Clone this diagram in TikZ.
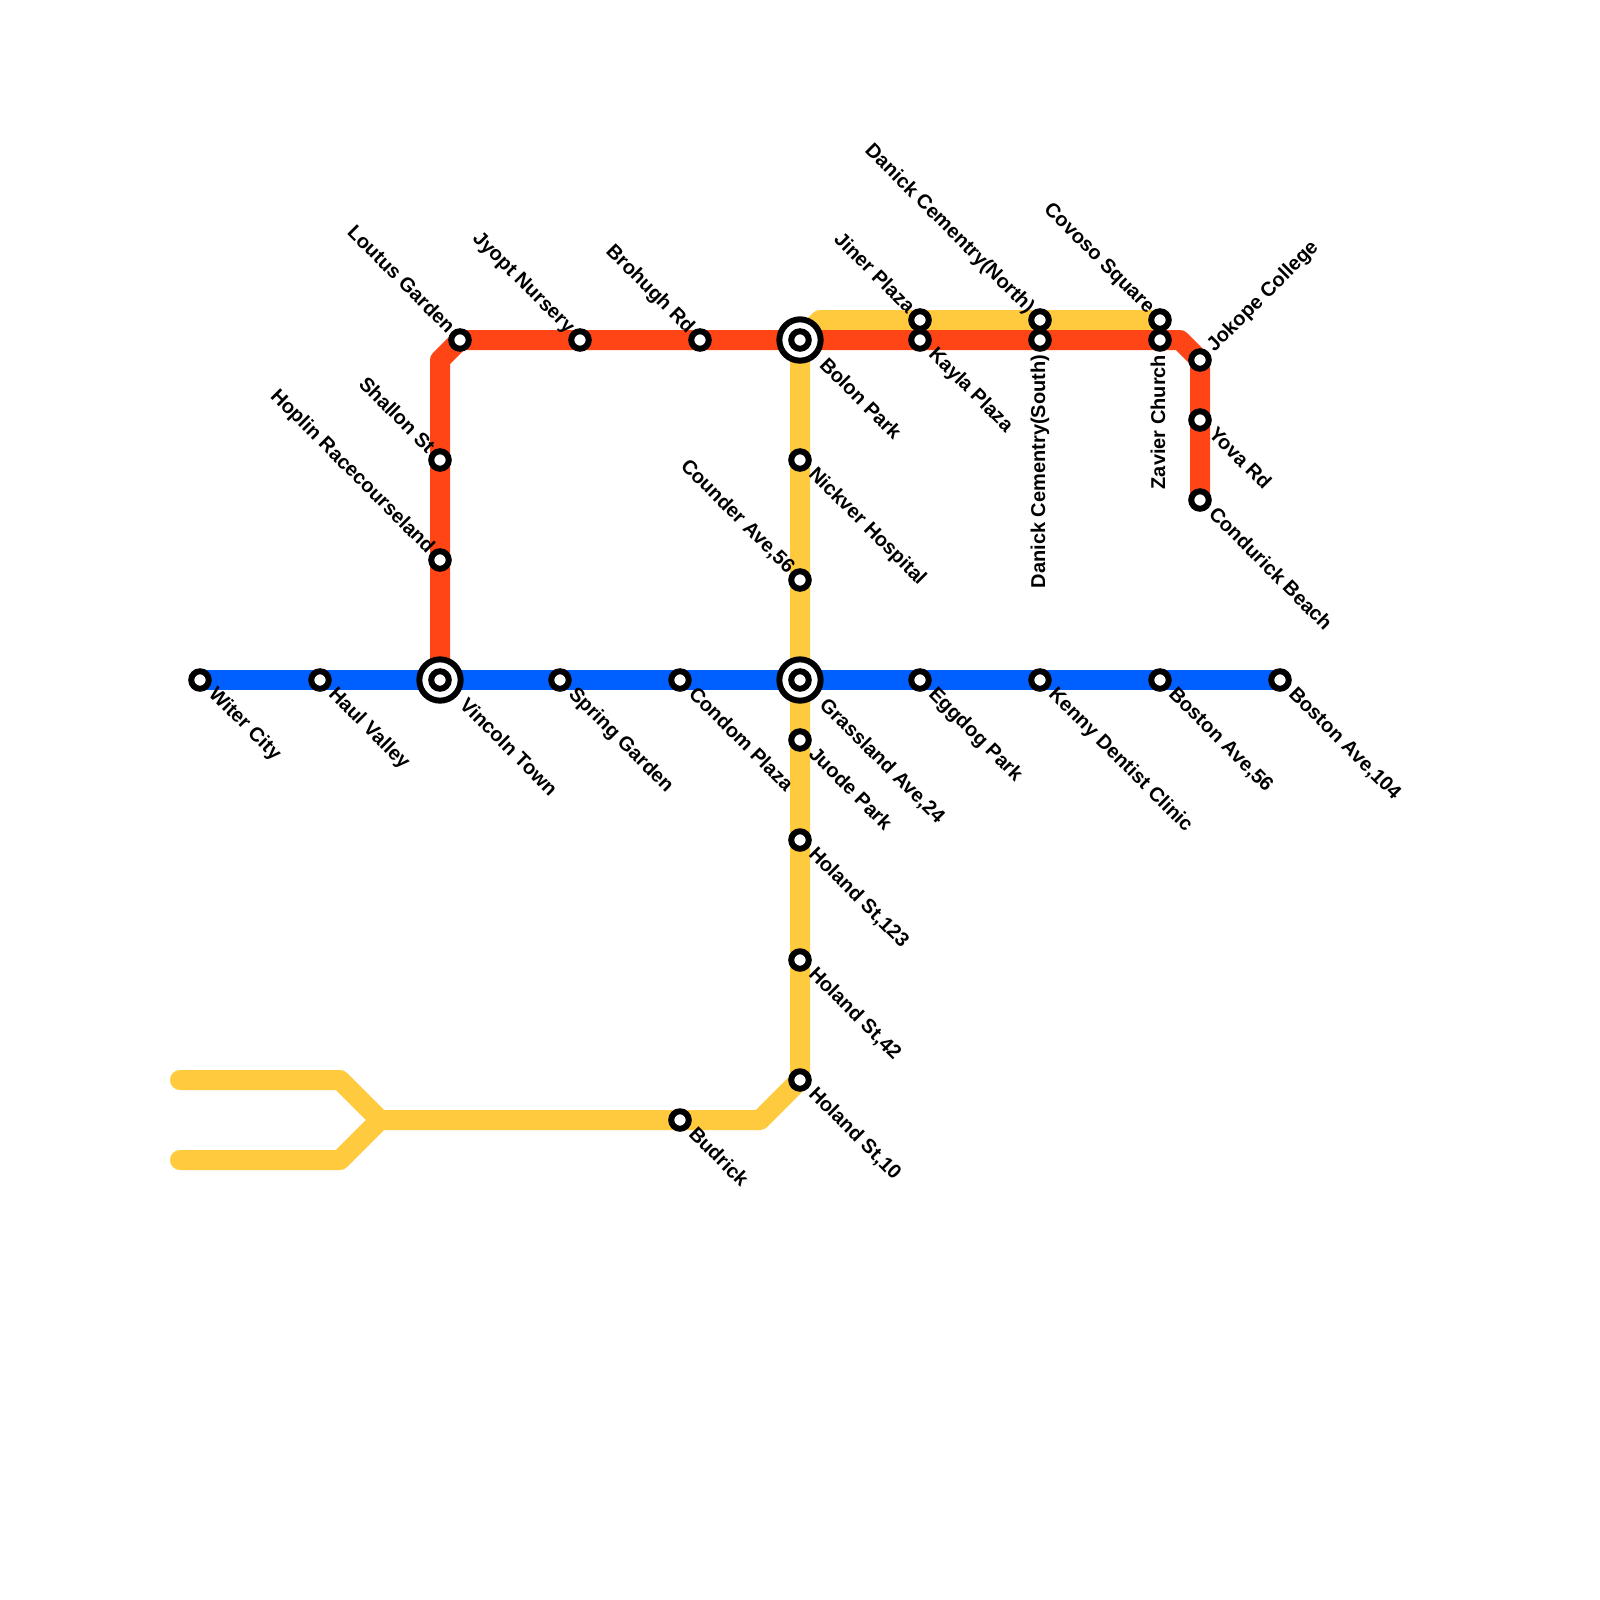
\documentclass[tikz,border=0pt]{standalone}
\usepackage{fontspec}
\setmainfont{Liberation Sans}
\definecolor{lineblue}{HTML}{005FFF}
\definecolor{linered}{HTML}{FF4416}
\definecolor{lineyellow}{HTML}{FFCA3D}
\tikzset{
  metro/.style={line width=5.69pt,line join=round,line cap=round},
  stn/.style={circle,draw=black,fill=white,line width=1.71pt,inner sep=0pt,outer sep=0pt,minimum size=4.98pt},
  hub/.style={circle,draw=black,fill=white,line width=1.71pt,inner sep=0pt,outer sep=0pt,minimum size=11.75pt},
  stnlabel/.style={inner sep=0pt,text height=4.15pt,text depth=1.2pt,font=\fontsize{5.69}{6.8}\selectfont\bfseries},
  lblse/.style={rotate=-45,anchor=west,xshift=4.4pt},
  lblhub/.style={rotate=-45,anchor=west,xshift=8.8pt},
  lblnw/.style={rotate=-45,anchor=east,xshift=-3.6pt},
  lblne/.style={rotate=45,anchor=west,xshift=4.2pt},
  lblup/.style={rotate=90,anchor=east,xshift=-4pt}
}
\def\stations{
  10/34/witer/lblse/Witer City,
  16/34/haul/lblse/Haul Valley,
  28/34/spring/lblse/Spring Garden,
  34/34/condom/lblse/Condom Plaza,
  46/34/eggdog/lblse/Eggdog Park,
  52/34/kenny/lblse/Kenny Dentist Clinic,
  58/34/bostona/lblse/{Boston Ave,56},
  64/34/bostonb/lblse/{Boston Ave,104},
  22/23/shallon/lblnw/Shallon St,
  22/28/hoplin/lblnw/Hoplin Racecourseland,
  23/17/loutus/lblnw/Loutus Garden,
  29/17/jyopt/lblnw/Jyopt Nursery,
  35/17/brohugh/lblnw/Brohugh Rd,
  46/17/kayla/lblse/Kayla Plaza,
  52/17/danicks/lblup/Danick Cementry(South),
  58/17/zavier/lblup/Zavier Church,
  60/18/jokope/lblne/Jokope College,
  60/21/yova/lblse/Yova Rd,
  60/25/condurick/lblse/Condurick Beach,
  46/16/jiner/lblnw/Jiner Plaza,
  52/16/danickn/lblnw/Danick Cementry(North),
  58/16/covoso/lblnw/Covoso Square,
  40/23/nickver/lblse/Nickver Hospital,
  40/29/counder/lblnw/{Counder Ave,56},
  40/37/juode/lblse/Juode Park,
  40/42/holanda/lblse/{Holand St,123},
  40/48/holandb/lblse/{Holand St,42},
  40/54/holandc/lblse/{Holand St,10},
  34/56/budrick/lblse/Budrick,
  22/34/vincoln/lblhub/Vincoln Town,
  40/17/bolon/lblhub/Bolon Park,
  40/34/grassland/lblhub/{Grassland Ave,24}
}
\begin{document}
\begin{tikzpicture}[x=0.2cm,y=-0.2cm]
\useasboundingbox (0,0) rectangle (80,80);

% Stop positions
\foreach \x/\y/\id/\kind/\txt in \stations
  {\coordinate (\id) at (\x,\y);}

% Bends and line ends
\coordinate (redbendA) at (22,18);
\coordinate (redbendB) at (59,17);
\coordinate (yelbendA) at (41,16);
\coordinate (yelbendB) at (38,56);
\coordinate (forkmid) at (19,56);
\coordinate (forkA) at (17,54);
\coordinate (forkB) at (17,58);
\coordinate (endA) at (9,54);
\coordinate (endB) at (9,58);

% Yellow line
\draw[metro,lineyellow] (endA) -- (forkA) -- (forkmid) -- (budrick) -- (yelbendB) -- (holandc) -- (bolon) -- (yelbendA) -- (covoso);
\draw[metro,lineyellow] (endB) -- (forkB) -- (forkmid);

% Red line
\draw[metro,linered] (vincoln) -- (redbendA) -- (loutus) -- (redbendB) -- (jokope) -- (condurick);

% Blue line
\draw[metro,lineblue] (witer) -- (bostonb);

% Stops and their labels
\foreach \id in {vincoln,bolon,grassland}
  {\node[hub] (\id-ring) at (\id) {};}
\foreach \x/\y/\id/\kind/\txt in \stations
  {\node[stn] (\id-stop) at (\id) {};
   \node[stnlabel,\kind] (\id-name) at (\id) {\txt};}
\end{tikzpicture}
\end{document}
